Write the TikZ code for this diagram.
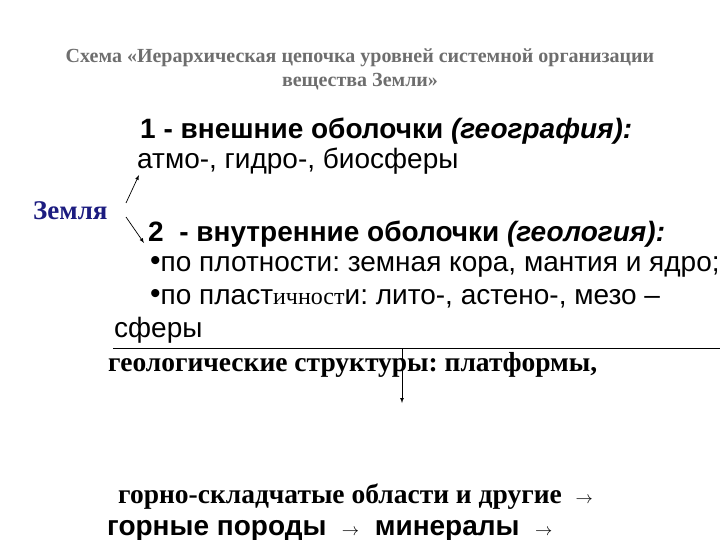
\documentclass[tikz,border=0pt]{standalone}
\usepackage{fontspec}
\setmainfont{Liberation Serif}
\setsansfont{Liberation Sans}
\usetikzlibrary{arrows}
\usetikzlibrary{positioning}
\usetikzlibrary{calc}
\frenchspacing
\definecolor{titlegray}{RGB}{110,110,110}
\definecolor{earthblue}{RGB}{28,28,128}
\tikzstyle{titletext}=[font=\frenchspacing\fontsize{20}{24}\selectfont\bfseries,text=titlegray,anchor=base,inner sep=0pt]
\tikzstyle{headtext}=[font=\frenchspacing\sffamily\fontsize{28}{32}\selectfont\bfseries,anchor=base west,inner sep=0pt]
\tikzstyle{plaintext}=[font=\frenchspacing\sffamily\fontsize{28}{32}\selectfont,anchor=base west,inner sep=0pt]
\tikzstyle{seriftext}=[font=\frenchspacing\fontsize{27.5}{31}\selectfont\bfseries,anchor=base west,inner sep=0pt]
\tikzstyle{edge} = [draw,->,>=latex,line width=0.7pt]
\tikzstyle{undirectededge} = [draw,line width=0.8pt]
\newcommand{\bul}{{\fontsize{30}{30}\selectfont\raisebox{1pt}{•}}}
\newcommand{\smallarrow}{{\rmfamily\mdseries\fontsize{18}{18}\selectfont$\rightarrow$}}

\begin{document}
\begin{tikzpicture}[x=1pt,y=-1pt]
\useasboundingbox (0,0) rectangle (720,540);

% Title
   \node[titletext] (title1) at (360,63) {Схема «Иерархическая цепочка уровней системной организации};
   \node[titletext] (title2) at (360,87) {вещества Земли»};

% Earth
   \node[font=\fontsize{27}{31}\selectfont\bfseries,text=earthblue,anchor=base west,inner sep=0pt] (zemlya) at (33,219) {Земля};

%outer shells
   \node[headtext] (outer) at (140,139) {1 - внешние оболочки \textit{(география):}};
   \node[plaintext] (atmo) at (137,169) {атмо-, гидро-, биосферы};

%inner shells
   \node[headtext] (inner) at (148,241) {2\ \ - внутренние оболочки \textit{(геология):}};
   \node[plaintext] (dens) at (150,271) {\bul по плотности: земная кора, мантия и ядро;};
   \node[plaintext] (plast) at (150,304) {\bul по пласт{\rmfamily\fontsize{24}{26}\selectfont ичност}и: лито-, астено-, мезо –};
   \node[plaintext] (sph) at (114,337) {сферы};

% Chain
   \node[seriftext] (geo) at (108,371) {геологические структуры: платформы,};
   \node[seriftext] (fold) at (118,503) {горно-складчатые области и другие \ \smallarrow};
   \node[headtext] (rock) at (107,535) {горные породы \ \smallarrow\ \ минералы \ \smallarrow};

 % Edges
   \coordinate (fork1) at (126,203);
   \coordinate (fork2) at (126,217);
   \coordinate (up) at (139,175);
   \coordinate (down) at (144,243);
   \coordinate (rulestart) at (113,348);
   \coordinate (ruleend) at (720,348);
   \coordinate (drop) at (402,348);
   \coordinate (droptip) at (402,403);

   \foreach \source/\dest in {fork1/up, fork2/down, drop/droptip}
       \path[edge] (\source) -- (\dest);
   \path[undirectededge] (rulestart) -- (ruleend);

\end{tikzpicture}
\end{document}
